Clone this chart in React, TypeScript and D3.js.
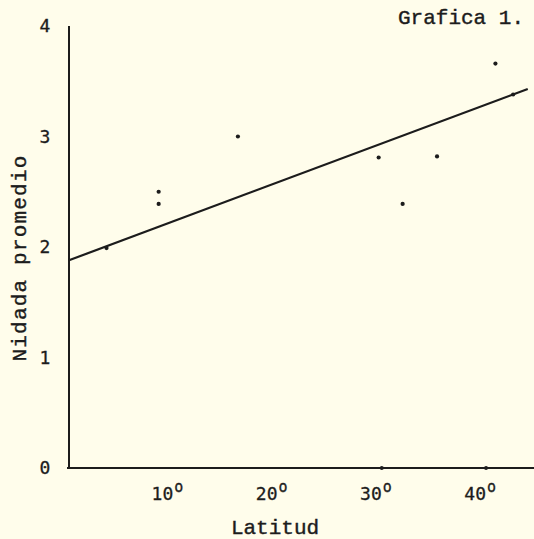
import React, { useEffect, useRef } from 'react'
import * as d3 from 'd3'

// latitude (degrees) and average clutch size
const latitudes = [3.6, 8.6, 8.6, 16.2, 29.7, 32.0, 35.3, 40.9, 42.6]
const nidada = [1.99, 2.5, 2.39, 3.0, 2.81, 2.39, 2.82, 3.66, 3.38]

// fitted line, two ends
const trendLat = [0, 44]
const trendValue = [1.88, 3.43]

const xTicks = [10, 20, 30, 40]
const xTickDots = [30, 40]
const yTicks = [0, 1, 2, 3, 4]

const title = 'Grafica 1.'
const xTitle = 'Latitud'
const yTitle = 'Nidada promedio'

const width = 534
const height = 539
const ink = '#1c1c1c'
const mono = "'Liberation Mono', 'Courier New', monospace"
const gothic = "'DejaVu Sans Mono', monospace"

const App = () => {
    const Chart = useRef<SVGSVGElement>(null)

    useEffect(() => {
        document.body.style.margin = '0'
        const svg = d3.select(Chart.current)
        svg.selectAll('*').remove()

        svg.append('rect')
            .attr('width', width)
            .attr('height', height)
            .attr('fill', '#fffdeb')

        const x = d3.scaleLinear().domain([0, 44.6]).range([69, 534])
        const y = d3.scaleLinear().domain([0, 4]).range([468, 26])

        // axes, drawn like the typed original
        svg.append('line')
            .attr('x1', x(0)).attr('x2', x(0))
            .attr('y1', y(4)).attr('y2', y(0))
            .attr('stroke', ink).attr('stroke-width', 2)
        svg.append('line')
            .attr('x1', x(0) - 2).attr('x2', x(44.6))
            .attr('y1', y(0)).attr('y2', y(0))
            .attr('stroke', ink).attr('stroke-width', 2)

        svg.append('g')
            .selectAll('circle')
            .data(xTickDots)
            .join('circle')
            .attr('cx', d => x(d))
            .attr('cy', y(0))
            .attr('r', 2)
            .attr('fill', ink)

        // y tick labels
        svg.append('g')
            .selectAll('text')
            .data(yTicks)
            .join('text')
            .text(d => d)
            .attr('x', 45)
            .attr('y', d => y(d) + 6)
            .attr('text-anchor', 'middle')
            .attr('fill', ink)
            .attr('stroke', ink)
            .attr('stroke-width', 0.3)
            .style('font-family', gothic)
            .style('font-size', '18px')

        // x tick labels with raised "o" for degrees
        const xl = svg.append('g')
            .selectAll('text')
            .data(xTicks)
            .join('text')
            .attr('x', d => x(d))
            .attr('y', 500)
            .attr('text-anchor', 'end')
            .attr('fill', ink)
            .attr('stroke', ink)
            .attr('stroke-width', 0.3)
            .style('font-family', gothic)
            .style('font-size', '18px')
        xl.append('tspan').text(d => d)
        xl.each(function (d) {
            d3.select(this).append('tspan')
                .attr('x', x(d) + 1)
                .attr('dy', -8)
                .attr('text-anchor', 'start')
                .style('font-size', '15px')
                .text('o')
        })

        // regression line
        const line = d3.line<number>()
            .x((d, i) => x(trendLat[i]))
            .y(d => y(d))
        svg.append('path')
            .datum(trendValue)
            .attr('d', line)
            .attr('fill', 'none')
            .attr('stroke', ink)
            .attr('stroke-width', 2.2)

        // points
        svg.append('g')
            .selectAll('circle')
            .data(nidada)
            .join('circle')
            .attr('cx', (d, i) => x(latitudes[i]))
            .attr('cy', d => y(d))
            .attr('r', 2.1)
            .attr('fill', ink)

        // titles
        const titles = svg.append('g')
            .attr('fill', ink)
            .attr('stroke', ink)
            .attr('stroke-width', 0.4)
            .style('font-family', mono)
            .style('font-size', '21px')

        titles.append('text')
            .text(title)
            .attr('x', 398)
            .attr('y', 24)

        titles.append('text')
            .text(xTitle)
            .attr('x', 275)
            .attr('y', 534)
            .attr('text-anchor', 'middle')

        titles.append('text')
            .text(yTitle)
            .attr('transform', 'translate(26,258) rotate(-90)')
            .attr('text-anchor', 'middle')
            .style('letter-spacing', '1.2px')
    }, [])

    return (
        <div>
            <svg ref={Chart} width={width} height={height} style={{ display: 'block' }}></svg>
        </div>
    )
}
export default App
